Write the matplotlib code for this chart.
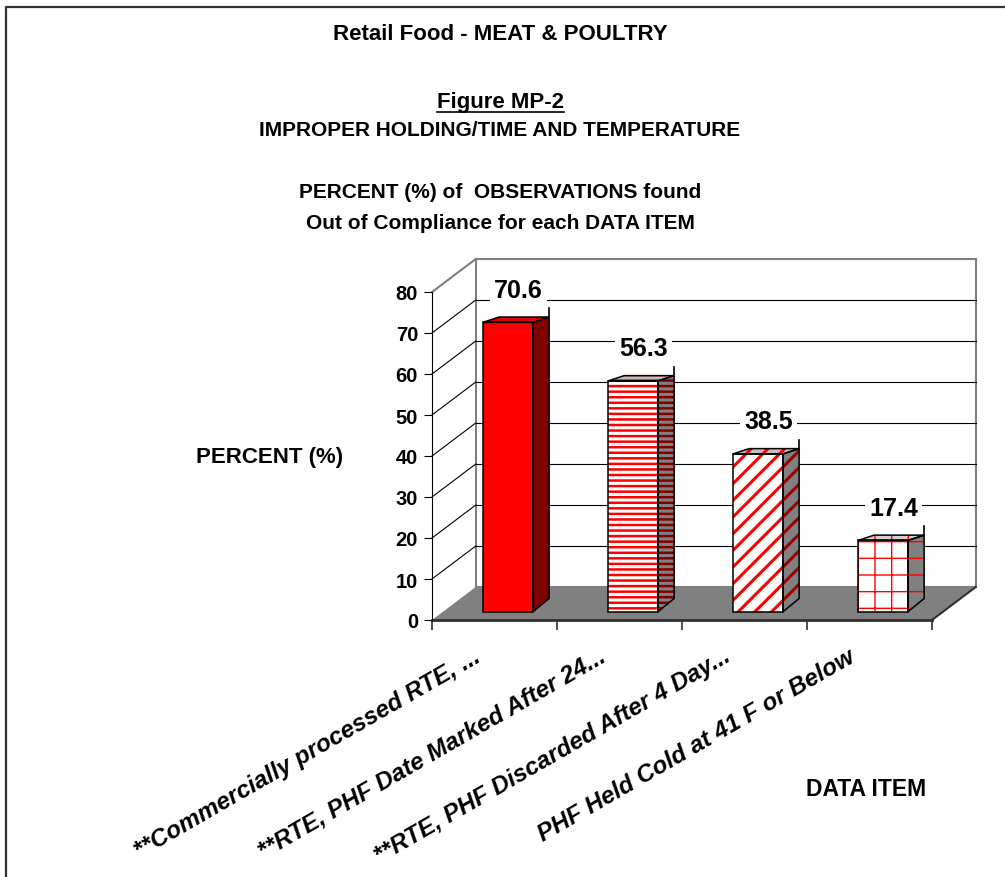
import matplotlib.pyplot as plt
from matplotlib.patches import Polygon
from matplotlib.lines import Line2D

plt.rcParams['font.family'] = ['Liberation Sans', 'DejaVu Sans']

categories = ['**Commercially processed RTE, ...',
              '**RTE, PHF Date Marked After 24...',
              '**RTE, PHF Discarded After 4 Day...',
              'PHF Held Cold at 41 F or Below']
values = [70.6, 56.3, 38.5, 17.4]
yticks = [0, 10, 20, 30, 40, 50, 60, 70, 80]

# look of each bar: front / side / top face, hatch and hatch colours
styles = [
    dict(front='#ff0000', side='#800000', top='#e00000', hatch=None, hc='#ff0000', hc_side='#800000', hlw=0.0),
    dict(front='white', side='#808080', top='#c0c0c0', hatch='---', hc='#ff0000', hc_side='#800000', hlw=1.8),
    dict(front='white', side='#808080', top='#c0c0c0', hatch='//', hc='#ff0000', hc_side='#a00000', hlw=2.2),
    dict(front='white', side='#808080', top='#d0d0d0', hatch='+', hc='#ff0000', hc_side='#ff0000', hlw=1.0),
]

# fake 3d geometry (in data units)
DX, DY = 0.35, 8.05          # depth of the walls / floor
BAR_OFF, BAR_W = 0.407, 0.4  # bar front face inside its category
LIFT = 2.0                   # bar front sits a bit behind the front edge
BDX, BDY_BOT, BDY_TOP = 0.13, 3.25, 1.3

W, H = 1005, 878
fig = plt.figure(figsize=(W / 100, H / 100), dpi=100)
ax = fig.add_axes([432 / W, 257 / H, 500 / W, 328 / H])
ax.set_xlim(0, 4)
ax.set_ylim(0, 80)


def face(pts, fc, hatch=None, hc=None, hlw=1.0, z=3):
    if hatch:
        p = Polygon(pts, closed=True, facecolor=fc, edgecolor=hc, lw=0, hatch=hatch,
                    clip_on=False, zorder=z)
        if hasattr(p, 'set_hatch_linewidth'):
            p.set_hatch_linewidth(hlw)
        ax.add_patch(p)
    else:
        ax.add_patch(Polygon(pts, closed=True, facecolor=fc, edgecolor='none',
                             clip_on=False, zorder=z))
    ax.add_patch(Polygon(pts, closed=True, facecolor='none', edgecolor='black',
                         lw=1.1, clip_on=False, zorder=z + 0.1))


# back wall
ax.add_patch(Polygon([(DX, DY), (4 + DX, DY), (4 + DX, 80 + DY), (DX, 80 + DY)],
                     closed=True, facecolor='white', edgecolor='#808080', lw=1.5,
                     clip_on=False, zorder=0.5))
for v in yticks[1:-1]:
    ax.plot([DX, 4 + DX], [v + DY, v + DY], color='black', lw=0.8, clip_on=False, zorder=0.6)
    ax.plot([0, DX], [v, v + DY], color='black', lw=0.8, clip_on=False, zorder=0.6)
ax.plot([0, DX], [80, 80 + DY], color='#808080', lw=1.5, clip_on=False, zorder=0.6)

# floor
ax.add_patch(Polygon([(0, 0), (4, 0), (4 + DX, DY), (DX, DY)], closed=True,
                     facecolor='#808080', edgecolor='none', clip_on=False, zorder=1))
ax.plot([4, 4 + DX], [0, DY], color='#303030', lw=1.5, clip_on=False, zorder=1.1)

# bars
for i, v in enumerate(values):
    s = styles[i]
    xl = i + BAR_OFF
    xr = xl + BAR_W
    b, t = LIFT, LIFT + v
    face([(xl, b), (xr, b), (xr, t), (xl, t)], s['front'], s['hatch'], s['hc'], s['hlw'])
    face([(xr, b), (xr + BDX, b + BDY_BOT), (xr + BDX, t + BDY_TOP), (xr, t)],
         s['side'], s['hatch'], s['hc_side'], s['hlw'])
    face([(xl, t), (xr, t), (xr + BDX, t + BDY_TOP), (xl + BDX, t + BDY_TOP)],
         s['top'], s['hatch'], s['hc'], s['hlw'])
    ax.plot([xr + BDX, xr + BDX], [t + BDY_TOP, t + BDY_TOP + 2.2], color='black',
            lw=1.2, clip_on=False, zorder=4)
    ax.text(xl + 0.284, t + 8, f'{v}', ha='center', va='center', fontsize=18,
            fontweight='bold', zorder=6,
            bbox=dict(facecolor='white', edgecolor='none', pad=3))

# axes
for side in ['top', 'right']:
    ax.spines[side].set_visible(False)
ax.spines['left'].set_color('black')
ax.spines['left'].set_linewidth(0.8)
ax.spines['bottom'].set_color('#303030')
ax.spines['bottom'].set_linewidth(2)
ax.spines['bottom'].set_zorder(2)
ax.set_yticks(yticks)
ax.set_yticklabels([str(v) for v in yticks], fontsize=14.5, fontweight='bold')
ax.tick_params(axis='y', direction='out', length=6, width=0.8, pad=4)
ax.set_xticks([0, 1, 2, 3, 4])
ax.set_xticklabels([])
ax.tick_params(axis='x', direction='out', length=7, width=1.2, color='#303030')
ax.patch.set_visible(False)

for i, c in enumerate(categories):
    ax.annotate(c, xy=(i + 0.5, 0), xytext=(-16, -34), textcoords='offset pixels',
                rotation=30, rotation_mode='anchor', ha='right', va='center',
                fontsize=17.5, fontweight='bold', fontstyle='italic')

fig.text(270 / W, 1 - 458 / H, 'PERCENT (%)', ha='center', va='center',
         fontsize=16, fontweight='bold')
fig.text(866 / W, 1 - 790 / H, 'DATA ITEM', ha='center', va='center',
         fontsize=16.5, fontweight='bold')

# titles
fig.text(500 / W, 1 - 34 / H, 'Retail Food - MEAT & POULTRY', ha='center', va='center',
         fontsize=16, fontweight='bold')
fig_t = fig.text(500 / W, 1 - 103 / H, 'Figure MP-2', ha='center', va='center',
                 fontsize=16, fontweight='bold')
fig.text(500 / W, 1 - 131 / H, 'IMPROPER HOLDING/TIME AND TEMPERATURE', ha='center',
         va='center', fontsize=15, fontweight='bold')
fig.text(500 / W, 1 - 193 / H, 'PERCENT (%) of  OBSERVATIONS found', ha='center',
         va='center', fontsize=15, fontweight='bold')
fig.text(500 / W, 1 - 224 / H, 'Out of Compliance for each DATA ITEM', ha='center',
         va='center', fontsize=15, fontweight='bold')

fig.canvas.draw()
bb = fig_t.get_window_extent()
fig.add_artist(Line2D([bb.x0 / W, bb.x1 / W], [(bb.y0 + 1) / H] * 2,
                      transform=fig.transFigure, color='black', lw=1.2))

# frame (only left and top edges show)
fig.add_artist(Line2D([6 / W, 6 / W, 1], [0, 1 - 8 / H, 1 - 8 / H],
                      transform=fig.transFigure, color='#333333', lw=1.6))

fig.savefig('out.png', dpi=100)
